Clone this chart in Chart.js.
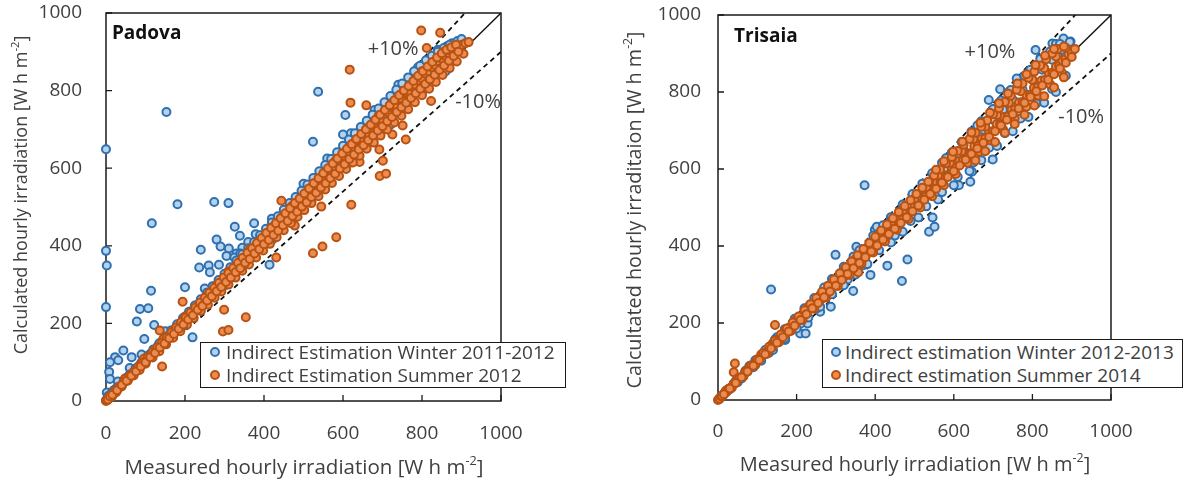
<!DOCTYPE html>
<html>
<head>
<meta charset="utf-8">
<script src="https://cdn.jsdelivr.net/npm/chart.js@4.4.1/dist/chart.umd.min.js"></script>
<style>
  body { margin: 0; width: 1184px; height: 482px; background: #fff; overflow: hidden; position: relative; font-family: 'Open Sans', sans-serif; }
  .wrap { position: absolute; top: 0; height: 482px; }
  .legend { position: absolute; background: #fff; border: 1.5px solid #1a1a1a; box-sizing: border-box; color: #404040; font-size: 19px; }
  .legend .row { position: absolute; white-space: nowrap; line-height: 22px; }
  .legend .dot { position: absolute; width: 10px; height: 10px; border-radius: 50%; box-sizing: border-box; border: 2px solid; }
</style>
</head>
<body>
<div class="wrap" style="left:0;width:600px"><canvas id="padova"></canvas></div>
<div class="wrap" style="left:600px;width:584px"><canvas id="trisaia"></canvas></div>

<div class="legend" style="left:200px;top:342px;width:366px;height:46px">
  <span class="dot" style="left:9px;top:4px;border-color:#2e70b0;background:#b4d2ec"></span>
  <div class="row" style="left:25px;top:-2px">Indirect Estimation Winter 2011-2012</div>
  <span class="dot" style="left:9px;top:27px;border-color:#b85212;background:#ec8c50"></span>
  <div class="row" style="left:25px;top:21px">Indirect Estimation Summer 2012</div>
</div>
<div class="legend" style="left:822px;top:339px;width:361px;height:49px">
  <span class="dot" style="left:8px;top:7px;border-color:#2e70b0;background:#b4d2ec"></span>
  <div class="row" style="left:22px;top:1px">Indirect estimation Winter 2012-2013</div>
  <span class="dot" style="left:8px;top:30px;border-color:#b85212;background:#ec8c50"></span>
  <div class="row" style="left:22px;top:24px">Indirect estimation Summer 2014</div>
</div>

<script>
// axis ticks and reference lines
const tickValues = [0, 200, 400, 600, 800, 1000];
const oneToOne = [[0, 0], [1000, 1000]];
const plus10 = [[0, 0], [909, 1000]];
const minus10 = [[0, 0], [1000, 900]];

// Padova - winter 2011-2012 [measured, calculated]
const padovaWinter = [
  [0,649],[0,387],[2,349],[0,242],[153,745],[537,797],[524,668],[606,737],[600,687],
  [181,507],[274,513],[310,510],[116,458],[326,449],[375,458],[339,426],[280,416],[240,390],
  [290,398],[311,393],[236,344],[260,349],[263,332],[286,351],[305,374],[200,293],[114,284],
  [86,237],[107,239],[78,205],[122,196],[97,160],[219,164],[414,351],[379,430],
  [44,130],[23,113],[31,105],[65,113],[10,100],[8,75],[10,57],[2,22],[5,12],
  [330,380],[345,395],[360,410],[325,370],
  [0,2],[4,8],[8,14],[12,10],[16,22],[20,28],[26,33],[32,40],[38,45],[45,52],[52,60],[60,66],
  [68,76],[76,84],[85,92],[94,103],[103,112],[112,122],[122,132],[132,142],[142,152],[152,164],
  [163,175],[174,186],[185,198],[196,210],[208,222],[220,234],[232,248],[244,260],[256,272],
  [268,286],[280,298],[292,312],[305,325],[318,338],[330,352],[343,366],[356,380],[369,394],
  [382,408],[395,422],[408,436],[421,450],[434,464],[447,478],[460,492],[473,506],[486,520],
  [499,534],[512,548],[525,562],[538,576],[551,590],[564,604],[577,618],[590,632],[603,646],
  [616,660],[629,674],[642,688],[655,702],[668,716],[681,730],[694,744],[707,758],[720,772],
  [733,786],[746,800],[759,814],[772,828],[785,842],[798,856],[811,868],[824,880],[837,892],
  [850,904],[863,914],[876,922],[890,928],[900,933],
  [30,50],[60,85],[90,120],[150,180],[250,290],[340,380],[420,470],[500,560],[560,625],
  [620,690],[680,750],[740,815],[790,860],[840,905],
  [100,98],[200,195],[300,298],[420,415],[520,515],[620,615],[720,712],[800,795],[860,850],
  [15,20],[30,36],[45,52],[60,68],[75,84],[90,100],[105,116],[120,133],[135,149],[150,166],
  [165,182],[180,198],[195,214],[210,230],[225,246],[240,262],[255,279],[270,296],[285,312],
  [300,328],[315,345],[330,362],[345,378],[360,394],[375,410],[390,427],[405,444],[420,460],
  [435,476],[450,493],[465,510],[480,526],[495,542],[510,558],[525,575],[540,592],[555,608],
  [570,624],[585,641],[600,658],[615,674],[630,690],[645,706],[660,722],[675,738],[690,754],
  [705,770],[720,786],[735,802],[750,818],[765,834],[780,850],[795,864],[810,878],[825,890],
  [840,900],[855,910],[870,918],
  [8,9],[23,24],[38,40],[53,55],[68,71],[83,86],[98,102],[113,118],[128,133],[143,149],[158,164],
  [173,180],[188,196],[203,211],[218,227],[233,242],[248,258],[263,274],[278,289],[293,305],
  [308,320],[323,336],[338,352],[353,367],[368,383],[383,398],[398,414],[413,430],[428,445],
  [443,461],[458,476],[473,492],[488,508],[503,523],[518,539],[533,554],[548,570],[563,586],
  [578,601],[593,617],[608,632],[623,648],[638,664],[653,679],[668,695],[683,710],[698,726],
  [713,742],[728,757],[743,773],[758,788],[773,804],[788,820],[803,835],[818,851],[833,866],
  [848,882],[863,897],[878,912]
];

// Padova - summer 2012
const padovaSummer = [
  [798,955],[846,949],[812,910],[617,854],[619,769],[659,762],[823,773],[751,710],[759,674],
  [725,687],[701,619],[693,580],[709,586],[642,616],[621,506],[545,501],[478,452],[583,422],
  [548,398],[524,381],[431,370],[299,235],[354,216],[296,179],[310,183],[194,256],[142,89],
  [444,516],[692,648],[136,182],
  [0,0],[3,2],[6,8],[9,7],[13,15],[17,16],[22,24],[27,26],[33,36],[38,37],[44,47],[49,52],
  [56,57],[62,66],[68,70],[74,78],[81,83],[87,92],[93,96],[101,104],[108,113],[114,117],
  [121,126],[128,131],[134,140],[141,144],[148,154],[155,158],[162,169],[169,172],[176,183],
  [183,187],[191,197],[198,204],[206,214],[213,218],[221,230],[229,235],[237,247],[244,250],
  [252,262],[260,266],[268,279],[276,283],[284,296],[292,300],[300,312],[308,316],[316,330],
  [324,334],[333,346],[341,350],[349,364],[357,368],[366,380],[374,386],[382,398],[391,402],
  [399,414],[408,420],[416,434],[425,438],[433,452],[442,456],[450,470],[459,474],[467,488],
  [476,492],[484,505],[493,510],[501,524],[510,528],[518,542],[527,546],[535,560],[544,565],
  [552,578],[561,582],[569,596],[578,600],[586,614],[595,618],[603,632],[612,636],[620,650],
  [629,654],[637,668],[646,672],[654,686],[663,690],[671,704],[680,708],[688,722],[697,726],
  [705,740],[714,744],[722,758],[731,762],[739,776],[748,780],[756,794],[765,798],[773,810],
  [782,816],[790,826],[799,832],[807,844],[816,850],[824,860],[833,866],[841,876],[850,882],
  [858,890],[867,896],[875,902],[884,908],[892,912],[901,918],[910,922],[918,925],
  [5,4],[15,12],[25,22],[40,38],[55,52],[70,66],[85,80],[100,96],[118,112],[135,128],[152,146],
  [170,163],[188,180],[205,197],[222,214],[240,232],[258,248],[275,266],[292,282],[310,300],
  [328,318],[345,336],[362,352],[380,370],[398,388],[415,405],[432,422],[450,440],[468,458],
  [485,475],[502,492],[520,510],[538,528],[555,545],[572,562],[590,580],[608,598],[625,615],
  [642,632],[660,650],[678,666],[695,684],[712,700],[730,718],[748,735],[765,752],[782,770],
  [800,788],[818,805],[835,822],[852,840],[870,858],[888,875],[905,895],
  [48,58],[95,108],[145,160],[200,218],[255,272],[310,334],[365,392],[420,448],[470,502],
  [525,560],[580,618],[630,668],[690,735],[745,790],[800,850],[855,900],
  [10,12],[22,25],[34,37],[46,50],[58,62],[70,75],[82,88],[94,100],[106,113],[118,126],[130,139],
  [142,151],[154,164],[166,177],[178,190],[190,203],[202,215],[214,228],[226,241],[238,254],
  [250,266],[262,279],[274,292],[286,305],[298,318],[310,330],[322,343],[334,356],[346,369],
  [358,382],[370,394],[382,407],[394,420],[406,433],[418,446],[430,458],[442,471],[454,484],
  [466,497],[478,510],[490,522],[502,535],[514,548],[526,561],[538,574],[550,587],[562,600],
  [574,612],[586,625],[598,638],[610,650],[622,662],[634,675],[646,688],[658,700],[670,712],
  [682,725],[694,738],[706,750],[718,762],[730,775],[742,788],[754,800],[766,812],[778,825],
  [790,838],[802,850],[814,862],[826,874],[838,885],[850,896],[862,905],[874,912],[886,918],
  [16,16],[28,28],[40,41],[52,52],[64,65],[76,76],[88,89],[100,100],[112,113],[124,124],[136,138],
  [148,148],[160,162],[172,173],[184,186],[196,197],[208,210],[220,221],[232,235],[244,245],
  [256,259],[268,270],[280,283],[292,294],[304,307],[316,318],[328,332],[340,342],[352,356],
  [364,366],[376,380],[388,391],[400,404],[412,415],[424,428],[436,439],[448,453],[460,464],
  [472,477],[484,488],[496,501],[508,512],[520,526],[532,537],[544,550],[556,561],[568,575],
  [580,586],[592,599],[604,610],[616,624],[628,635],[640,648],[652,659],[664,672],[676,684],
  [688,697],[700,708],[712,721],[724,732],[736,745],[748,757],[760,769],[772,781],[784,793],
  [796,805],[808,817],[820,829],[832,841],[844,853],[856,865],[868,877],[880,889],[892,900]
];

// Trisaia - winter 2012-2013
const trisaiaWinter = [
  [373,558],[135,287],[299,377],[388,325],[431,349],[482,365],[468,309],[344,283],[287,242],
  [537,437],[551,450],[546,474],[642,567],[646,593],[699,625],[689,779],[718,807],[760,835],
  [808,909],[879,939],[897,931],[851,926],[865,896],[613,558],[399,442],[404,450],[352,398],
  [209,173],[223,173],[171,156],[228,199],[260,229],
  [5,6],[15,16],[25,27],[40,42],[55,57],[70,73],[85,89],[100,104],[120,125],[140,146],[160,167],
  [180,187],[200,208],[225,234],[250,260],[275,286],[300,312],[325,338],[350,364],[375,390],
  [400,416],[425,442],[450,468],[475,494],[500,520],[525,546],[550,572],[575,598],[600,624],
  [625,650],[650,676],[675,702],[700,728],[725,754],[750,780],[775,806],[800,832],[825,858],
  [850,884],[875,910],[895,930],
  [30,28],[60,56],[90,85],[130,123],[170,160],[210,198],[250,237],[290,275],[330,313],[370,350],
  [410,389],[450,427],[490,465],[530,503],[570,540],[610,579],[650,617],[690,655],[730,693],
  [770,731],[810,770],[850,808],[885,842],
  [80,88],[150,163],[220,238],[290,314],[360,389],[440,475],[520,562],[580,628],[620,670],
  [660,713],[700,756],[740,800],[780,842],[820,886],[860,925],
  [20,22],[45,49],[70,76],[95,103],[120,130],[145,157],[170,184],[195,211],[245,265],[270,292],
  [320,346],[345,373],[395,427],[420,454],[470,508],[495,535],[545,589],[570,616],[595,643],
  [645,697],[670,724],[720,778],[745,805],[795,858],[845,905],[870,925],
  [50,46],[110,102],[140,130],[200,186],[230,214],[260,242],[320,298],[350,326],[380,353],
  [440,409],[470,437],[510,474],[560,521],[600,558],[640,595],[670,623],[710,660],[750,698],
  [790,735],[830,772],[860,800]
];

// Trisaia - summer 2014
const trisaiaSummer = [
  [145,195],[43,95],[40,72],[357,332],
  [0,0],[4,3],[8,9],[12,11],[17,18],[22,21],[28,29],[34,33],[40,42],[47,46],[54,56],[61,60],
  [68,70],[75,74],[83,85],[90,89],[98,100],[106,105],[114,117],[122,121],[130,133],[138,137],
  [147,150],[155,154],[164,167],[172,171],[181,184],[190,189],[199,202],[208,207],[217,220],
  [226,225],[235,238],[244,243],[253,257],[262,261],[272,276],[281,280],[291,295],[300,299],
  [310,314],[319,318],[329,334],[338,337],[348,353],[357,356],[367,372],[376,375],[386,391],
  [395,394],[405,411],[414,413],[424,430],[433,432],[443,449],[452,451],[462,468],[471,470],
  [481,487],[490,489],[500,507],[509,508],[519,526],[528,527],[538,545],[547,546],[557,564],
  [566,565],[576,583],[585,584],[595,602],[604,603],[614,621],[623,622],[633,640],[642,641],
  [652,659],[661,660],[671,678],[680,679],[690,697],[699,698],[709,716],[718,717],[728,735],
  [737,736],[747,754],[756,755],[766,773],[775,774],[785,792],[794,793],[804,811],[813,812],
  [823,830],[832,831],[842,849],[851,850],[860,866],[868,868],[876,882],[884,886],[892,898],
  [900,904],[908,912],
  [20,24],[50,56],[80,86],[110,118],[140,148],[170,180],[200,210],[230,242],[260,272],[290,302],
  [320,334],[350,366],[380,396],[410,428],[440,458],[470,490],[500,522],[530,552],[560,584],
  [590,616],[620,646],[650,678],[680,710],[710,740],[740,772],[770,802],[800,832],[830,862],
  [860,892],[885,915],
  [35,32],[65,62],[95,91],[125,120],[155,150],[185,179],[215,208],[245,237],[275,266],[305,296],
  [335,325],[365,354],[395,383],[425,412],[455,442],[485,470],[515,500],[545,529],[575,558],
  [605,587],[635,616],[665,645],[695,674],[725,703],[755,732],[785,762],[815,791],[845,820],
  [875,850],
  [10,11],[25,27],[40,42],[55,58],[70,74],[85,90],[100,106],[115,122],[130,138],[145,154],
  [160,170],[175,186],[190,201],[205,217],[220,233],[235,249],[250,265],[265,281],[280,297],
  [295,313],[310,329],[325,345],[340,360],[355,376],[370,392],[385,408],[400,424],[415,440],
  [430,456],[445,472],[460,488],[475,504],[490,519],[505,535],[520,551],[535,567],[550,583],
  [565,599],[580,615],[595,631],[610,647],[625,663],[640,678],[655,694],[670,710],[685,726],
  [700,742],[715,758],[730,774],[745,790],[760,806],[775,822],[790,837],[805,853],[820,869],
  [835,885],[850,900],[865,912],[880,918],
  [15,15],[30,30],[45,44],[60,59],[75,74],[90,89],[105,104],[120,119],[135,134],[150,149],
  [165,163],[180,178],[195,193],[210,208],[225,223],[240,238],[255,252],[270,267],[285,282],
  [300,297],[315,312],[330,327],[345,342],[360,356],[375,371],[390,386],[405,401],[420,416],
  [435,431],[450,445],[465,460],[480,475],[495,490],[510,505],[525,520],[540,535],[555,549],
  [570,564],[585,579],[600,594],[615,609],[630,624],[645,639],[660,653],[675,668],[690,683],
  [705,698],[720,713],[735,728],[750,742],[765,757],[780,772],[795,787],[810,802],[825,817],
  [840,832],[855,846],[870,861],[885,876],[900,891],
  [555,598],[575,620],[598,645],[622,671],[645,695],[668,720],[692,746],[715,771],[738,796],
  [762,822],[785,846],[808,870],[832,895],[855,912],
  [655,622],[680,646],[705,670],[730,694],[755,717],[780,741],[805,765],[830,789],[855,812],
  [880,838]
];

const TEXT = '#404040';
const FONT = "'Open Sans', sans-serif";

function xy(arr) { return arr.map(p => ({ x: p[0], y: p[1] })); }

// text with a superscript part: parts = [[text, isSup], ...]
function drawRich(ctx, parts, cx, cy, size, angle) {
  ctx.save();
  ctx.translate(cx, cy);
  if (angle) ctx.rotate(angle);
  ctx.fillStyle = TEXT;
  ctx.textBaseline = 'middle';
  ctx.textAlign = 'left';
  let total = 0;
  parts.forEach(([t, sup]) => {
    ctx.font = (sup ? size * 0.62 : size) + 'px ' + FONT;
    total += ctx.measureText(t).width;
  });
  let x = -total / 2;
  parts.forEach(([t, sup]) => {
    ctx.font = (sup ? size * 0.62 : size) + 'px ' + FONT;
    ctx.fillText(t, x, sup ? -size * 0.32 : 0);
    x += ctx.measureText(t).width;
  });
  ctx.restore();
}

const framePlugin = {
  id: 'frame',
  beforeDatasetsDraw(chart) {
    const { ctx, chartArea: a, scales: { x, y } } = chart;
    ctx.save();
    ctx.strokeStyle = '#1a1a1a';
    ctx.lineWidth = 1.3;
    tickValues.forEach(v => {
      const px = x.getPixelForValue(v), py = y.getPixelForValue(v);
      ctx.beginPath();
      ctx.moveTo(px, a.bottom); ctx.lineTo(px, a.bottom - 6);
      ctx.moveTo(a.left, py); ctx.lineTo(a.left + 6, py);
      ctx.stroke();
    });
    ctx.lineWidth = 1.5;
    ctx.strokeRect(a.left, a.top, a.right - a.left, a.bottom - a.top);
    ctx.restore();
  },
  afterDraw(chart) {
    const o = chart.options.plugins.frame;
    const { ctx, scales: { x, y } } = chart;
    o.notes.forEach(n => {
      ctx.save();
      ctx.font = (n.bold ? 'bold ' : '') + n.size + 'px ' + FONT;
      ctx.fillStyle = n.color || TEXT;
      ctx.textBaseline = 'middle';
      ctx.textAlign = n.align || 'center';
      ctx.fillText(n.text, x.getPixelForValue(n.x), y.getPixelForValue(n.y));
      ctx.restore();
    });
    drawRich(ctx, o.xTitle, o.xTitlePos[0], o.xTitlePos[1], o.xTitleSize, 0);
    drawRich(ctx, o.yTitle, o.yTitlePos[0], o.yTitlePos[1], o.yTitleSize, -Math.PI / 2);
  }
};

function makeChart(id, winter, summer, cfg) {
  const line = (pts, dash) => ({
    type: 'line', data: xy(pts), borderColor: '#111', borderWidth: dash.length ? 1.8 : 1.4,
    borderDash: dash, pointRadius: 0, fill: false, order: 3
  });
  const dots = (pts, fill, edge, order) => ({
    data: xy(pts), backgroundColor: fill, borderColor: edge, borderWidth: 2,
    pointRadius: 4, clip: false, order
  });
  const axisTicks = pad => ({ color: TEXT, font: { family: FONT, size: 19 }, padding: pad, maxRotation: 0, callback: v => String(v) });
  return new Chart(document.getElementById(id), {
    type: 'scatter',
    data: {
      datasets: [
        line(oneToOne, []), line(plus10, [5, 4]), line(minus10, [5, 4]),
        dots(winter, '#b4d2ec', '#2e70b0', 2),
        dots(summer, '#ec8c50', '#b85212', 1)
      ]
    },
    options: {
      responsive: true,
      maintainAspectRatio: false,
      animation: false,
      layout: { padding: cfg.padding, autoPadding: false },
      plugins: {
        legend: { display: false },
        tooltip: { enabled: false },
        frame: cfg
      },
      scales: {
        x: {
          type: 'linear', min: 0, max: 1000,
          afterBuildTicks: s => { s.ticks = tickValues.map(v => ({ value: v })); },
          afterFit: s => { s.height = cfg.xAxisHeight; s.paddingLeft = 0; s.paddingRight = 0; },
          grid: { display: false },
          border: { display: false },
          ticks: axisTicks(cfg.xTickPad)
        },
        y: {
          type: 'linear', min: 0, max: 1000,
          afterBuildTicks: s => { s.ticks = tickValues.map(v => ({ value: v })); },
          afterFit: s => { s.width = cfg.yAxisWidth; s.paddingTop = 0; s.paddingBottom = 0; },
          grid: { display: false },
          border: { display: false },
          ticks: axisTicks(cfg.yTickPad)
        }
      }
    },
    plugins: [framePlugin]
  });
}

makeChart('padova', padovaWinter, padovaSummer, {
  padding: { top: 13, right: 99, bottom: 0, left: 0 },
  yAxisWidth: 106, xAxisHeight: 81, xTickPad: 13, yTickPad: 16,
  xTitleSize: 20.5, yTitleSize: 18,
  xTitle: [['Measured hourly irradiation [W h m', false], ['-2', true], [']', false]],
  xTitlePos: [304, 468],
  yTitle: [['Calculated hourly irradiation [W h m', false], ['-2', true], [']', false]],
  yTitlePos: [22, 195],
  notes: [
    { text: 'Padova', x: 15, y: 948, size: 19, bold: true, align: 'left', color: '#111' },
    { text: '+10%', x: 727, y: 907, size: 20 },
    { text: '-10%', x: 942, y: 771, size: 20 }
  ]
});

makeChart('trisaia', trisaiaWinter, trisaiaSummer, {
  padding: { top: 15, right: 73, bottom: 0, left: 0 },
  yAxisWidth: 118, xAxisHeight: 82, xTickPad: 12, yTickPad: 9,
  xTitleSize: 20, yTitleSize: 19.8,
  xTitle: [['Measured hourly irradiation [W h m', false], ['-2', true], [']', false]],
  xTitlePos: [315, 465],
  yTitle: [['Calcultated hourly irraditaion [W h m', false], ['-2', true], [']', false]],
  yTitlePos: [35, 210],
  notes: [
    { text: 'Trisaia', x: 41, y: 943, size: 19, bold: true, align: 'left', color: '#111' },
    { text: '+10%', x: 692, y: 904, size: 20 },
    { text: '-10%', x: 924, y: 735, size: 20 }
  ]
});
</script>
</body>
</html>
